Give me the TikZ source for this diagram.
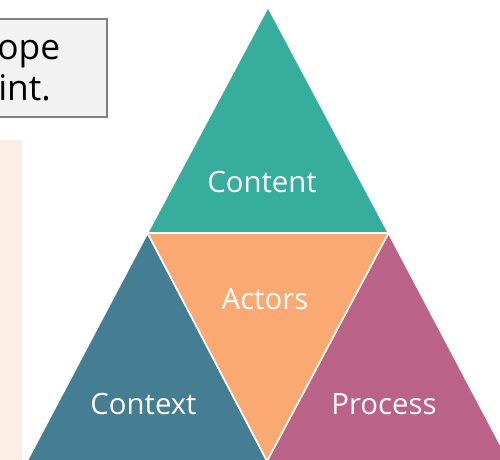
\documentclass[tikz,border=0pt]{standalone}
\usepackage{fontspec}
\setmainfont{Open Sans}
\definecolor{teal1}{HTML}{37AD9E}
\definecolor{orange1}{HTML}{F9A971}
\definecolor{blue1}{HTML}{457D93}
\definecolor{pink1}{HTML}{BA6288}
\definecolor{boxfill}{HTML}{F2F2F2}
\definecolor{boxline}{HTML}{7F7F7F}
\definecolor{peach}{HTML}{FDEEE5}
\tikzset{
  tri/.style={draw=white, line width=1.2pt, line join=bevel},
  lbl/.style={text=white, font=\fontsize{22}{26}\selectfont, inner sep=0pt},
  boxtxt/.style={text=black, font=\fontsize{26.5}{30}\selectfont, inner sep=0pt, anchor=base west}
}
\begin{document}
\begin{tikzpicture}[x=0.75pt,y=-0.75pt]
\useasboundingbox (0,0) rectangle (500,460);
\begin{scope}
\clip (0,0) rectangle (500,460);
% left peach panel
\fill[peach] (-5,140) rectangle (22,465);
% text box
\draw[fill=boxfill, draw=boxline, line width=1.5pt] (-20,19) rectangle (107,117);
\node[boxtxt] (t1) at (-3,60) {ope};
\node[boxtxt] (t2) at (-2,100) {int.};
% triangles
\coordinate (A) at (268,7);
\coordinate (L) at (27,461);
\coordinate (R) at (509,461);
\coordinate (ML) at (147.5,233);
\coordinate (MR) at (388.5,233);
\coordinate (MB) at (267,461);
\filldraw[tri, fill=teal1] (A) -- (ML) -- (MR) -- cycle;
\filldraw[tri, fill=blue1] (ML) -- (L) -- (MB) -- cycle;
\filldraw[tri, fill=pink1] (MR) -- (MB) -- (R) -- cycle;
\filldraw[tri, fill=orange1] (ML) -- (MR) -- (MB) -- cycle;
\end{scope}
\node[lbl] (content) at (262,182) {Content};
\node[lbl] (actors) at (265,299) {Actors};
\node[lbl] (context) at (143.5,404) {Context};
\node[lbl] (process) at (384,404) {Process};
\end{tikzpicture}
\end{document}
